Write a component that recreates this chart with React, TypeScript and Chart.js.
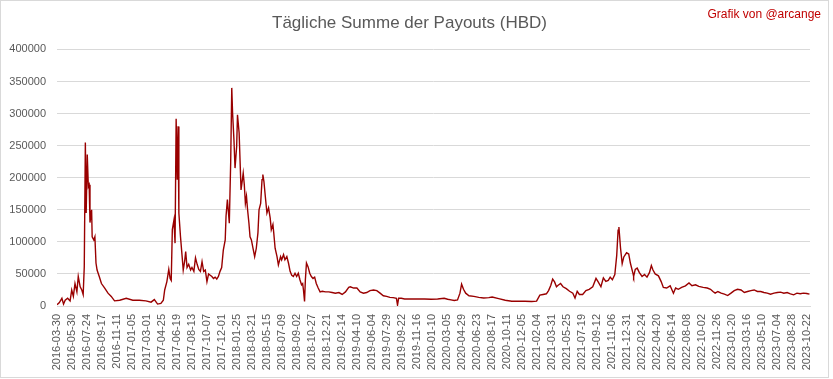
import React, { useEffect, useRef } from "react";
import { Chart, registerables } from "chart.js";

Chart.register(...registerables);

const FONT = '"Liberation Sans", Arial, sans-serif';

const tickLabels = [
  "2016-03-30", "2016-05-30", "2016-07-24", "2016-09-17", "2016-11-11",
  "2017-01-05", "2017-03-01", "2017-04-25", "2017-06-19", "2017-08-13", "2017-10-07", "2017-12-01",
  "2018-01-25", "2018-03-21", "2018-05-15", "2018-07-09", "2018-09-02", "2018-10-27", "2018-12-21",
  "2019-02-14", "2019-04-10", "2019-06-04", "2019-07-29", "2019-09-22", "2019-11-16",
  "2020-01-10", "2020-03-05", "2020-04-29", "2020-06-23", "2020-08-17", "2020-10-11", "2020-12-05",
  "2021-02-04", "2021-03-31", "2021-05-25", "2021-07-19", "2021-09-12", "2021-11-06", "2021-12-31",
  "2022-02-24", "2022-04-20", "2022-06-14", "2022-08-08", "2022-10-02", "2022-11-26",
  "2023-01-20", "2023-03-16", "2023-05-10", "2023-07-04", "2023-08-28", "2023-10-22",
];

const TICK_STEP_DAYS = 55;
const LAST_DAY = 2762;

// day index (days since first category) of each sample
const sampleDays = [
  0, 8, 18, 24, 30, 39, 48, 54, 60, 66, 73, 78, 85, 91, 96, 100, 104, 107, 111, 115,
  118, 121, 127, 129, 135, 139, 143, 147, 155, 163, 175, 187, 199, 211, 230, 254, 278, 302, 326, 345,
  357, 369, 381, 390, 395, 403, 410, 415, 419, 423, 429, 433, 437, 441, 444, 447, 453, 459, 463, 468,
  472, 477, 483, 490, 495, 502, 508, 514, 520, 526, 532, 538, 544, 550, 556, 562, 568, 574, 580, 586,
  592, 598, 604, 610, 617, 620, 625, 632, 637, 641, 644, 649, 653, 659, 662, 668, 675, 680, 683, 687,
  691, 695, 699, 704, 708, 713, 719, 725, 731, 737, 741, 747, 752, 755, 759, 764, 770, 776, 782, 786,
  792, 795, 800, 807, 812, 820, 824, 831, 836, 843, 849, 855, 861, 867, 873, 879, 885, 891, 897, 901,
  904, 908, 911, 915, 921, 927, 933, 939, 945, 951, 958, 965, 973, 985, 997, 1009, 1021, 1034, 1046, 1058,
  1070, 1076, 1088, 1100, 1112, 1124, 1136, 1148, 1161, 1173, 1185, 1197, 1209, 1221, 1233, 1245, 1249, 1253, 1263, 1275,
  1300, 1324, 1348, 1372, 1396, 1420, 1433, 1445, 1457, 1469, 1478, 1484, 1491, 1499, 1511, 1529, 1547, 1565, 1584, 1596,
  1620, 1644, 1668, 1692, 1716, 1741, 1759, 1771, 1783, 1795, 1803, 1811, 1818, 1825, 1832, 1837, 1847, 1856, 1868, 1880,
  1892, 1900, 1908, 1916, 1928, 1940, 1952, 1965, 1977, 1985, 1995, 2004, 2013, 2022, 2029, 2037, 2046, 2053, 2058, 2061,
  2067, 2073, 2079, 2089, 2097, 2103, 2113, 2115, 2121, 2128, 2136, 2146, 2155, 2164, 2173, 2180, 2186, 2194, 2206, 2216,
  2224, 2236, 2249, 2261, 2269, 2279, 2291, 2305, 2318, 2329, 2342, 2354, 2370, 2385, 2397, 2406, 2414, 2424, 2436, 2448,
  2460, 2472, 2484, 2496, 2509, 2521, 2533, 2545, 2557, 2569, 2581, 2593, 2605, 2617, 2630, 2642, 2654, 2666, 2678, 2690,
  2702, 2714, 2726, 2738, 2750, 2760,
];

// daily payout sum (HBD) at each sample
const payouts = [
  2000, 5000, 12000, 3000, 9000, 12000, 8000, 25000, 15000, 35000, 22000, 46000, 30000, 25000, 18000, 61000, 255000, 145000, 236000, 186000,
  189000, 130000, 150000, 108000, 103000, 108000, 67000, 56000, 46000, 35000, 28000, 20000, 15000, 8000, 9000, 12000, 9000, 9000, 8000, 6000,
  10000, 3000, 4000, 9000, 25000, 38000, 57000, 43000, 40000, 119000, 134000, 98000, 292000, 197000, 280000, 145000, 108000, 77000, 56000, 69000,
  85000, 60000, 65000, 56000, 60000, 54000, 75000, 65000, 57000, 54000, 69000, 54000, 56000, 38000, 50000, 48000, 46000, 43000, 45000, 42000,
  46000, 54000, 60000, 87000, 103000, 140000, 166000, 129000, 223000, 340000, 301000, 259000, 215000, 249000, 298000, 270000, 181000, 197000, 207000, 189000,
  160000, 171000, 150000, 129000, 108000, 103000, 90000, 77000, 90000, 114000, 150000, 160000, 197000, 205000, 194000, 171000, 145000, 153000, 137000, 119000,
  127000, 114000, 90000, 77000, 64000, 77000, 72000, 80000, 72000, 77000, 67000, 54000, 48000, 46000, 51000, 46000, 51000, 41000, 33000, 35000,
  25000, 7000, 41000, 67000, 61000, 51000, 46000, 43000, 45000, 35000, 28000, 22000, 23000, 22000, 22000, 21000, 20000, 21000, 18000, 22000,
  29000, 30000, 28000, 28000, 22000, 20000, 21000, 24000, 25000, 24000, 20000, 16000, 15000, 13500, 13000, 12000, 1500, 12000, 12000, 11000,
  11000, 11000, 11000, 10500, 11000, 12000, 10500, 9500, 8500, 9500, 20000, 34000, 26000, 20000, 16000, 15000, 13500, 12500, 13000, 14000,
  11500, 9000, 7500, 7500, 7500, 7000, 7500, 17000, 18000, 19000, 24000, 32000, 42000, 37500, 30000, 32000, 35000, 30000, 27000, 23000,
  20000, 12500, 23000, 18000, 18000, 24000, 26000, 30000, 43000, 37500, 30000, 44000, 38500, 40000, 45000, 41000, 49000, 79000, 118000, 123000,
  90000, 66000, 76500, 83000, 81000, 67000, 50000, 46000, 57000, 59000, 52000, 46000, 49000, 45000, 52000, 63000, 56000, 50000, 47000, 38000,
  29000, 28000, 31500, 20000, 28000, 26000, 29000, 31500, 36000, 31500, 33000, 30500, 29000, 28000, 26000, 22600, 20000, 22600, 20000, 18400,
  16300, 20000, 24000, 26000, 25000, 21000, 22600, 24000, 25000, 22600, 22600, 21000, 20000, 18400, 20000, 21000, 21600, 20000, 21000, 19000,
  17400, 20000, 19000, 20000, 19500, 18400,
];

export default function App() {
  const canvasRef = useRef<HTMLCanvasElement | null>(null);

  useEffect(() => {
    document.body.style.margin = "0";
    const canvas = canvasRef.current;
    if (!canvas) return;
    const chart = new Chart(canvas, {
      type: "line",
      data: {
        datasets: [
          {
            data: sampleDays.map((d, i) => ({ x: d, y: payouts[i] })),
            borderColor: "#990000",
            borderWidth: 1.4,
            pointRadius: 0,
            tension: 0,
            fill: false,
          },
        ],
      },
      options: {
        animation: false,
        responsive: false,
        maintainAspectRatio: false,
        layout: { padding: { left: 0, right: 10, top: 0, bottom: 0 } },
        plugins: {
          legend: { display: false },
          tooltip: { enabled: false },
          title: {
            display: true,
            text: "Tägliche Summe der Payouts (HBD)",
            color: "#595959",
            font: { family: FONT, size: 17, weight: "normal" },
            padding: { top: 12, bottom: 16 },
          },
        },
        scales: {
          x: {
            type: "linear",
            min: 0,
            max: LAST_DAY,
            grid: { display: false, drawTicks: false },
            border: { display: true, color: "#d9d9d9" },
            ticks: {
              stepSize: TICK_STEP_DAYS,
              includeBounds: false,
              autoSkip: false,
              maxRotation: 90,
              minRotation: 90,
              padding: 8,
              color: "#595959",
              font: { family: FONT, size: 11 },
              callback: (v: any) => {
                const n = Number(v);
                const i = Math.round(n / TICK_STEP_DAYS);
                return Math.abs(n - i * TICK_STEP_DAYS) < 0.01 ? tickLabels[i] ?? "" : "";
              },
            },
            afterFit: (s: any) => {
              s.height = 71;
            },
          },
          y: {
            min: 0,
            max: 400000,
            grid: { color: "#d9d9d9", drawTicks: false },
            border: { display: false },
            ticks: {
              stepSize: 50000,
              padding: 11,
              color: "#595959",
              font: { family: FONT, size: 11 },
              callback: (v: any) => String(v),
            },
            afterFit: (s: any) => {
              s.width = 56;
            },
          },
        },
      },
    });
    return () => chart.destroy();
  }, []);

  return (
    <div
      style={{
        position: "absolute",
        left: 0,
        top: 0,
        width: 829,
        height: 378,
        boxSizing: "border-box",
        border: "1px solid #d9d9d9",
        background: "#ffffff",
      }}
    >
      <canvas ref={canvasRef} width={827} height={376} style={{ display: "block" }} />
      <div
        style={{
          position: "absolute",
          right: 7,
          top: 7,
          color: "#c00000",
          fontFamily: FONT,
          fontSize: 12,
          lineHeight: "12px",
          whiteSpace: "nowrap",
        }}
      >
        Grafik von @arcange
      </div>
    </div>
  );
}
